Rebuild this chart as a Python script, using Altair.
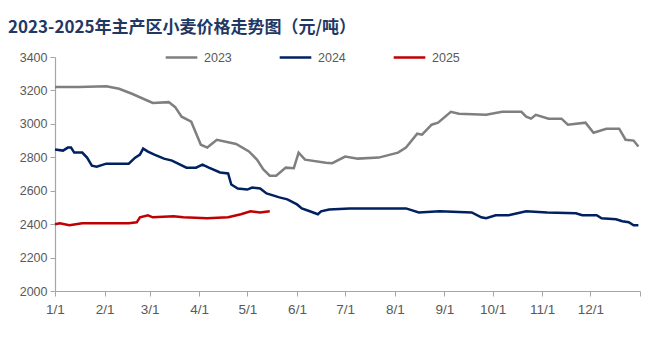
import altair as alt
import pandas as pd

# ---- data (month-day, value) ----
d2023 = ["01-01","01-16","02-02","02-10","02-18","03-03","03-13","03-17","03-21","03-27",
         "04-02","04-06","04-12","04-24","05-02","05-07","05-11","05-15","05-19","05-25",
         "05-30","06-02","06-06","06-19","06-23","07-01","07-09","07-22","08-03","08-08",
         "08-15","08-18","08-24","08-28","09-05","09-10","09-27","10-07","10-19","10-22",
         "10-25","10-28","11-05","11-13","11-17","11-28","12-03","12-11","12-19","12-23",
         "12-28","12-31"]
v2023 = [3220,3220,3225,3210,3180,3125,3130,3100,3043,3013,
         2875,2858,2905,2880,2835,2786,2727,2690,2690,2738,
         2735,2828,2786,2768,2765,2804,2792,2798,2828,2858,
         2941,2935,2995,3007,3072,3060,3054,3072,3072,3043,
         3031,3054,3031,3031,2995,3007,2947,2971,2971,2905,
         2900,2864]

d2024 = ["01-01","01-06","01-09","01-11","01-13","01-18","01-21","01-24","01-27","02-02",
         "02-16","02-20","02-23","02-25","02-28","03-04","03-10","03-15","03-24","03-30",
         "04-03","04-07","04-14","04-19","04-21","04-25","05-01","05-04","05-09","05-13",
         "05-17","05-21","05-26","06-01","06-04","06-09","06-14","06-16","06-21","07-04",
         "07-12","08-08","08-16","08-29","09-18","09-24","09-27","10-03","10-11","10-22",
         "11-04","11-22","11-26","12-05","12-08","12-17","12-21","12-25","12-28","12-31"]
v2024 = [2846,2840,2858,2858,2828,2828,2798,2750,2744,2762,
         2762,2798,2816,2852,2834,2816,2792,2780,2738,2738,
         2756,2738,2709,2703,2637,2613,2607,2619,2613,2584,
         2572,2560,2548,2518,2494,2477,2459,2477,2488,2494,
         2494,2494,2470,2477,2470,2441,2435,2453,2453,2477,
         2470,2465,2453,2453,2435,2429,2417,2411,2393,2393]

d2025 = ["01-01","01-04","01-10","01-18","02-16","02-21","02-23","02-28","03-03","03-16",
         "03-22","04-06","04-19","04-27","05-03","05-09","05-15"]
v2025 = [2399,2405,2393,2405,2405,2411,2441,2453,2441,2447,
         2441,2435,2441,2459,2477,2470,2477]

series = ["2023", "2024", "2025"]
colors = ["#7F7F7F", "#002060", "#C00000"]
y_ticks = [2000, 2200, 2400, 2600, 2800, 3000, 3200, 3400]
title_text = "2023-2025年主产区小麦价格走势图（元/吨）"

rows = []
for name, ds, vs in zip(series, [d2023, d2024, d2025], [v2023, v2024, v2025]):
    for d, v in zip(ds, vs):
        rows.append({"series": name, "date": f"2023-{d}T00:00:00", "value": v})
df = pd.DataFrame(rows)

tick_dates = [alt.DateTime(year=2023, month=m, date=1) for m in range(1, 13)] + \
             [alt.DateTime(year=2024, month=1, date=1)]

chart = alt.Chart(df).mark_line(strokeWidth=2.5).encode(
    x=alt.X("date:T",
            scale=alt.Scale(domain=[alt.DateTime(year=2023, month=1, date=1),
                                    alt.DateTime(year=2024, month=1, date=1)], nice=False),
            axis=alt.Axis(title=None, values=tick_dates, labelFlush=False,
                          labelExpr="year(datum.value) == 2024 ? '' : timeFormat(datum.value, '%-m/%-d')",
                          grid=False, domainColor="#A6A6A6", tickColor="#A6A6A6",
                          tickSize=5, labelColor="#595959", labelFontSize=13.5,
                          labelFont="Liberation Sans", labelPadding=6, domainWidth=1.2)),
    y=alt.Y("value:Q",
            scale=alt.Scale(domain=[2000, 3400], nice=False, zero=False),
            axis=alt.Axis(title=None, values=y_ticks, format="d", grid=False,
                          domainColor="#A6A6A6", tickColor="#A6A6A6", tickSize=5,
                          labelColor="#595959", labelFontSize=12.5,
                          labelFont="Liberation Sans", labelPadding=3,
                          domainWidth=1.2)),
    color=alt.Color("series:N",
                    scale=alt.Scale(domain=series, range=colors),
                    legend=alt.Legend(title=None, orient="none", direction="horizontal",
                                      legendX=109, legendY=-17,
                                      symbolType="stroke", symbolSize=1000,
                                      symbolStrokeWidth=2.5, labelFontSize=12.5,
                                      labelFont="Liberation Sans", labelColor="#595959",
                                      columnPadding=42, labelOffset=5)),
).properties(
    width=585,
    height=234,
    autosize=alt.AutoSizeParams(type="none"),
    padding={"left": 55, "top": 57, "right": 20, "bottom": 62},
    title=alt.TitleParams(title_text, anchor="start", frame="group", dx=-47, offset=3,
                          fontSize=17, font="Noto Sans CJK SC", fontWeight="bold",
                          color="#1F3864"),
).configure_view(stroke=None)

chart.save("out.html", embed_options={"renderer": "svg", "actions": False})
